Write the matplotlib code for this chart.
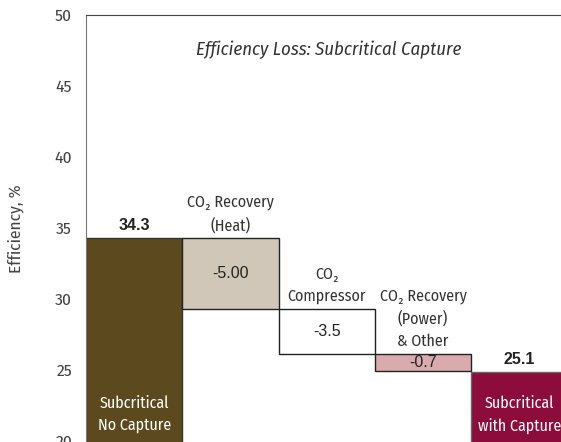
import numpy as np
import matplotlib.pyplot as plt

cond = ['Fira Sans Condensed', 'DejaVu Sans']
arial = ['Liberation Sans', 'DejaVu Sans']
plt.rcParams['font.family'] = cond
plt.rcParams['font.weight'] = 'normal'

# data (bar heights as drawn in the chart, labels as printed)
steps = ['Subcritical\nNo Capture', 'CO₂ Recovery\n(Heat)', 'CO₂\nCompressor',
         'CO₂ Recovery\n(Power)\n& Other', 'Subcritical\nwith Capture']
start_val = 34.3
deltas = [-5.00, -3.17, -1.25]
end_val = 24.86
delta_text = ['-5.00', '-3.5', '-0.7']
total_text = ['34.3', '25.1']
colors = ['#5c4a1e', '#d0c7b9', '#ffffff', '#d9aaae', '#8c0d3b']

fig = plt.figure(figsize=(5.61, 4.42), dpi=100)
ax = fig.add_axes([0.1533, 0.0, 0.9, 0.966])

x = np.arange(5)
# total bars
ax.bar(x[0], start_val, bottom=0, width=1, color=colors[0], edgecolor='#333333', lw=1)
ax.bar(x[4], end_val, bottom=0, width=1, color=colors[4], edgecolor='#666666', lw=1)
# floating delta bars
level = start_val
for i, d in enumerate(deltas):
    ax.bar(x[i + 1], -d, bottom=level + d, width=1, color=colors[i + 1],
           edgecolor='#222222', lw=1)
    ax.text(x[i + 1], level + d / 2, delta_text[i],
            ha='center', va='center', fontsize=11.5, family=arial, color='#222222')
    ax.text(x[i + 1], level + 0.3, steps[i + 1], ha='center', va='bottom', fontsize=11.5,
            linespacing=1.5, color='#333333')
    level += d

for xi, v, t in [(x[0], start_val, total_text[0]), (x[4], end_val, total_text[1])]:
    ax.text(xi, v + 0.3, t, ha='center', va='bottom',
            fontsize=11.5, fontweight='bold', family=arial, color='#222222')
ax.text(x[0], 21.85, steps[0], ha='center', va='center', color='white', fontsize=11.5, linespacing=1.5)
ax.text(x[4], 21.85, steps[4], ha='center', va='center', color='white', fontsize=11.5, linespacing=1.5)

ax.text(0.218, 0.918, 'Efficiency Loss: Subcritical Capture', transform=ax.transAxes,
        ha='left', va='center', fontsize=13.5, style='italic', color='#333333')

ax.set_xlim(-0.5, -0.5 + 0.9 * 561 / 96.3)
ax.set_ylim(19.9, 50)
ax.set_yticks(np.arange(20, 51, 5))
ax.set_xticks([])
ax.tick_params(axis='y', length=0, pad=10, labelsize=12.5, labelcolor='#444444')
ax.set_ylabel('Efficiency, %', fontsize=12.5, color='#444444', labelpad=22)
for s in ['right', 'bottom']:
    ax.spines[s].set_visible(False)
ax.spines['left'].set_color('#777777')
ax.spines['top'].set_color('#444444')

fig.savefig('out.png', dpi=100)
